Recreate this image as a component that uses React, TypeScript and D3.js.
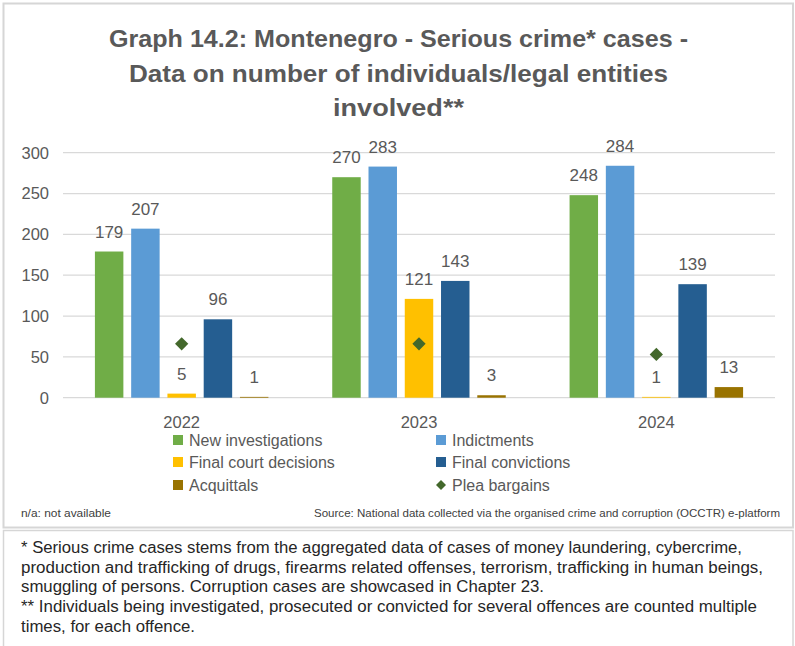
import React from "react";
import * as d3 from "d3";

const categories = ["2022", "2023", "2024"];
const seriesNames = [
  "New investigations",
  "Indictments",
  "Final court decisions",
  "Final convictions",
  "Acquittals",
];
const newInvestigations = [179, 270, 248];
const indictments = [207, 283, 284];
const finalCourtDecisions = [5, 121, 1];
const finalConvictions = [96, 143, 139];
const acquittals = [1, 3, 13];
const pleaBargains = [66, 66, 53];
const yTicks = [0, 50, 100, 150, 200, 250, 300];
const seriesColors = ["#70AD47", "#5B9BD5", "#FFC000", "#255E91", "#997300"];
const pleaColor = "#43682B";

const titleLines = [
  "Graph 14.2: Montenegro - Serious crime* cases -",
  "Data on number of individuals/legal entities",
  "involved**",
];
const footnoteLines = [
  "* Serious crime cases stems from the aggregated data of cases of money laundering, cybercrime,",
  "production and trafficking of drugs, firearms related offenses, terrorism, trafficking in human beings,",
  "smuggling of persons. Corruption cases are showcased in Chapter 23.",
  "** Individuals being investigated, prosecuted or convicted for several offences are counted multiple",
  "times, for each offence.",
];
const sourceText =
  "Source: National data collected via the organised crime and corruption (OCCTR) e-platform";
const naText = "n/a: not available";

const seriesValues = [
  newInvestigations,
  indictments,
  finalCourtDecisions,
  finalConvictions,
  acquittals,
];

export default function App() {
  const W = 795;
  const H = 646;
  const font = "'Liberation Sans', Arial, sans-serif";
  const textColor = "#595959";

  const x0 = d3.scaleBand<string>().domain(categories).range([63, 775]).padding(0);
  const x1 = d3
    .scaleBand<string>()
    .domain(seriesNames)
    .range([0, x0.bandwidth()])
    .paddingInner(0.215)
    .paddingOuter(0.88);
  const y = d3.scaleLinear().domain([0, 300]).range([397.7, 152.7]);

  const diamond = d3.symbol().type(d3.symbolSquare).size(88)();

  const titleWidths = [579, 539, 131];
  const titleBase = [47, 82, 116];
  const footWidths = [721, 742, 523, 736, 174];
  const footBase = [553, 572.7, 592.4, 612.1, 631.8];

  const legendItems = [
    { name: "New investigations", color: seriesColors[0], x: 173, row: 0, w: 144 },
    { name: "Indictments", color: seriesColors[1], x: 436, row: 0, w: 89 },
    { name: "Final court decisions", color: seriesColors[2], x: 173, row: 1, w: 155 },
    { name: "Final convictions", color: seriesColors[3], x: 436, row: 1, w: 125 },
    { name: "Acquittals", color: seriesColors[4], x: 173, row: 2, w: 75 },
    { name: "Plea bargains", color: pleaColor, x: 436, row: 2, w: 100, diamond: true },
  ];
  const legendRowY = [440, 462, 485];

  return (
    <div style={{ position: "fixed", left: 0, top: 0, background: "#fff" }}>
      <svg width={W} height={H} style={{ display: "block" }}>
        <rect x={0} y={0} width={W} height={H} fill="#fff" />
        {/* frames */}
        <rect x={3.5} y={3.5} width={789.5} height={524} fill="none" stroke="#D6D6D6" strokeWidth={2} />
        <rect x={3.5} y={530.5} width={789.5} height={130} fill="none" stroke="#D6D6D6" strokeWidth={1.5} />

        {/* title */}
        {titleLines.map((t, i) => (
          <text
            key={i}
            x={398.5}
            y={titleBase[i]}
            textAnchor="middle"
            fontFamily={font}
            fontWeight="bold"
            fontSize={24}
            fill={textColor}
            textLength={titleWidths[i]}
            lengthAdjust="spacingAndGlyphs"
          >
            {t}
          </text>
        ))}

        {/* gridlines */}
        {yTicks.map((t) => (
          <g key={t}>
            <line x1={63} x2={775} y1={y(t)} y2={y(t)} stroke="#D9D9D9" strokeWidth={1.3} />
            <text
              x={49}
              y={y(t)}
              dy="0.36em"
              textAnchor="end"
              fontFamily={font}
              fontSize={16.5}
              fill={textColor}
            >
              {t}
            </text>
          </g>
        ))}

        {/* bars */}
        {categories.map((c, ci) => (
          <g key={c} transform={`translate(${x0(c)},0)`}>
            {seriesNames.map((s, si) => {
              const v = seriesValues[si][ci];
              const bx = x1(s) as number;
              return (
                <g key={s}>
                  <rect
                    x={bx}
                    y={y(v)}
                    width={x1.bandwidth()}
                    height={y(0) - y(v)}
                    fill={seriesColors[si]}
                  />
                  <text
                    x={bx + x1.bandwidth() / 2}
                    y={y(v) - 14}
                    textAnchor="middle"
                    fontFamily={font}
                    fontSize={17}
                    fill={textColor}
                  >
                    {v}
                  </text>
                </g>
              );
            })}
            <path
              d={diamond as string}
              transform={`translate(${x0.bandwidth() / 2},${y(pleaBargains[ci])}) rotate(45)`}
              fill={pleaColor}
            />
            <text
              x={x0.bandwidth() / 2}
              y={428}
              textAnchor="middle"
              fontFamily={font}
              fontSize={16.5}
              fill={textColor}
            >
              {c}
            </text>
          </g>
        ))}

        {/* legend */}
        {legendItems.map((it) => {
          const cy = legendRowY[it.row];
          return (
            <g key={it.name}>
              {it.diamond ? (
                <path
                  d={d3.symbol().type(d3.symbolSquare).size(50)() as string}
                  transform={`translate(${it.x + 5},${cy}) rotate(45)`}
                  fill={it.color}
                />
              ) : (
                <rect x={it.x} y={cy - 5} width={10} height={10} fill={it.color} />
              )}
              <text
                x={it.x + 16}
                y={cy}
                dy="0.36em"
                fontFamily={font}
                fontSize={16}
                fill={textColor}
              >
                {it.name}
              </text>
            </g>
          );
        })}

        {/* notes */}
        <text
          x={21}
          y={517}
          fontFamily={font}
          fontSize={10.5}
          fill="#404040"
          textLength={90}
          lengthAdjust="spacingAndGlyphs"
        >
          {naText}
        </text>
        <text
          x={314}
          y={517}
          fontFamily={font}
          fontSize={10.5}
          fill="#404040"
          textLength={466}
          lengthAdjust="spacingAndGlyphs"
        >
          {sourceText}
        </text>

        {footnoteLines.map((t, i) => (
          <text
            key={i}
            x={21}
            y={footBase[i]}
            fontFamily={font}
            fontSize={16}
            fill="#262626"
            textLength={footWidths[i]}
            lengthAdjust="spacingAndGlyphs"
          >
            {t}
          </text>
        ))}
      </svg>
    </div>
  );
}
